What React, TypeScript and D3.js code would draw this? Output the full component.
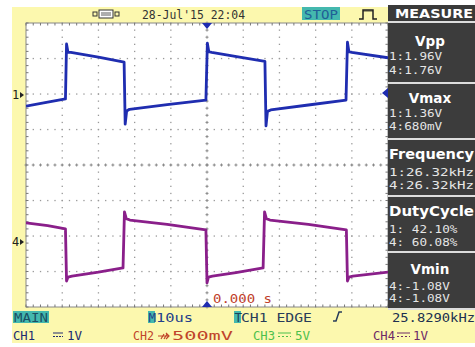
import React from 'react';
import * as d3 from 'd3';

// waveforms, time in us, value in volts
const ch1Points: [number, number][] = [
  [-50, -0.31], [-44, -0.2], [-39.1, -0.11], [-38.8, 1.44], [-38.4, 1.2], [-37.6, 1.2],
  [-30, 1.07], [-22.9, 0.93], [-22.6, -0.82], [-22.2, -0.45], [-21.4, -0.4], [-11, -0.27],
  [-0.3, -0.14], [0.1, 1.46], [0.5, 1.22], [1.3, 1.2], [9, 1.07], [16.0, 0.95], [16.3, -0.87],
  [16.7, -0.46], [17.6, -0.42], [28, -0.28], [38.4, -0.14], [38.8, 1.49], [39.2, 1.22],
  [40.0, 1.2], [50, 1.05],
];
const ch4Points: [number, number][] = [
  [-50, 0.54], [-44, 0.46], [-39.1, 0.37], [-38.8, -1.1], [-38.4, -0.99], [-37.3, -0.96],
  [-30, -0.85], [-23.2, -0.73], [-22.8, 0.85], [-22.3, 0.66], [-21.3, 0.62], [-11, 0.5],
  [-0.3, 0.34], [0.0, -1.15], [0.4, -0.99], [1.5, -0.96], [8, -0.86], [15.5, -0.73],
  [15.9, 0.85], [16.4, 0.66], [17.4, 0.62], [28, 0.5], [38.5, 0.34], [38.8, -1.1],
  [39.2, -0.99], [40.3, -0.96], [50, -0.85],
];
const ch1Offset = 1.97; // divisions above centre
const ch4Offset = -2.17;
const voltsPerDiv = 1;

const measureTitles = ['Vpp', 'Vmax', 'Frequency', 'DutyCycle', 'Vmin'];
const measureLine1 = ['1:1.96V', '1:1.36V', '1:26.32kHz', '1: 42.10%', '4:-1.08V'];
const measureLine2 = ['4:1.76V', '4:680mV', '4:26.32kHz', '4: 60.08%', '4:-1.08V'];

const YEL = '#fcf8ae';
const TEAL = '#44b8ae';
const MONO = '"DejaVu Sans Mono", monospace';

const App = () => {
  const x = d3.scaleLinear().domain([-50, 50]).range([26, 388]);
  const yDiv = d3.scaleLinear().domain([-4, 4]).range([307, 23]);
  const ch1Line = d3.line<[number, number]>()
    .x((d) => x(d[0]))
    .y((d) => yDiv(ch1Offset + d[1] / voltsPerDiv));
  const ch4Line = d3.line<[number, number]>()
    .x((d) => x(d[0]))
    .y((d) => yDiv(ch4Offset + d[1] / voltsPerDiv));

  const minorX = d3.range(-50, 50.01, 2);
  const minorY = d3.range(-4, 4.01, 0.2);
  const majorX = d3.range(-40, 41, 10);
  const majorY = d3.range(-3, 3.1, 1);

  const dots: JSX.Element[] = [];
  let k = 0;
  majorX.forEach((mx) => {
    minorY.forEach((my) => {
      if (mx === 0) {
        dots.push(<path key={k++} d={`M${x(mx) - 1.5},${yDiv(my)}h3M${x(mx)},${yDiv(my) - 1.5}v3`} stroke="#888" strokeWidth={1} />);
      } else {
        dots.push(<rect key={k++} x={x(mx) - 0.6} y={yDiv(my) - 0.6} width={1.3} height={1.3} fill="#999" />);
      }
    });
  });
  majorY.forEach((my) => {
    minorX.forEach((mx) => {
      if (my === 0) {
        dots.push(<path key={k++} d={`M${x(mx) - 1.5},${yDiv(my)}h3M${x(mx)},${yDiv(my) - 1.5}v3`} stroke="#888" strokeWidth={1} />);
      } else {
        dots.push(<rect key={k++} x={x(mx) - 0.6} y={yDiv(my) - 0.6} width={1.3} height={1.3} fill="#999" />);
      }
    });
  });
  // border ticks
  minorX.forEach((mx) => {
    dots.push(<path key={k++} d={`M${x(mx)},23v2.5M${x(mx)},307v-2.5`} stroke="#777" strokeWidth={1} />);
  });
  minorY.forEach((my) => {
    dots.push(<path key={k++} d={`M26,${yDiv(my)}h2.5M388,${yDiv(my)}h-2.5`} stroke="#777" strokeWidth={1} />);
  });

  const boxTop = [23, 84, 140, 197, 253];
  const boxBottom = [82, 138, 195, 251, 308];
  const titleY = [46, 103, 159, 216, 274];
  const val1Y = [60, 117, 176, 233, 290];
  const val2Y = [74, 130, 189, 246, 302];

  return (
    <div style={{ position: 'fixed', left: 0, top: 0 }}>
      <svg width={475} height={347} style={{ display: 'block' }}>
        <rect x={0} y={0} width={475} height={347} fill="#fff" />
        <rect x={12} y={7} width={463} height={336} fill={YEL} />
        <rect x={26} y={23} width={362} height={284} fill="#fff" stroke="#888" strokeWidth={1} />
        {dots}

        {/* top bar */}
        <g transform="translate(93,10)">
          <rect x={0} y={2} width={4} height={4} fill="none" stroke="#333" strokeWidth={1} />
          <rect x={6} y={0} width={14} height={8} fill="#fff" stroke="#333" strokeWidth={1} />
          <path d="M8,3h10M8,5h10" stroke="#333" strokeWidth={0.8} />
          <rect x={22} y={2} width={4} height={4} fill="none" stroke="#333" strokeWidth={1} />
        </g>
        <text x={142} y={19} fontFamily={MONO} fontSize={12} fill="#333" textLength={103} lengthAdjust="spacingAndGlyphs">28-Jul'15 22:04</text>
        <rect x={302} y={7} width={38} height={13} fill={TEAL} />
        <text x={304} y={18.5} fontFamily={MONO} fontSize={12} fill="#1f5f96" textLength={34} lengthAdjust="spacingAndGlyphs">STOP</text>
        <path d="M359,19h4v-9h10v9h4" fill="none" stroke="#222" strokeWidth={1.5} />
        <path d="M364,10v2M366,10v2M368,10v2M370,10v2M372,10v2" stroke="#222" strokeWidth={0.8} />
        <rect x={388} y={5} width={87} height={16} fill="#3a3a3a" />
        <text x={395} y={18} fontFamily='"DejaVu Sans", sans-serif' fontWeight="bold" fontSize={13} fill="#fff" textLength={78} lengthAdjust="spacingAndGlyphs">MEASURE</text>

        {/* trigger markers */}
        <path d={`M${x(0) - 5},23h10l-5,6z`} fill="#1f2db0" />
        <path d={`M${x(0) - 5},307h10l-5,-6z`} fill="#1f2db0" />
        <path d={`M388,93l-6,0l6,-5z M388,93l-6,0l6,5z`} fill="#1f2db0" />

        {/* channel markers */}
        <text x={12} y={yDiv(ch1Offset) + 4} fontFamily={MONO} fontSize={12} fill="#222">1</text>
        <path d={`M20,${yDiv(ch1Offset) - 3}l4,3l-4,3z`} fill="#222" />
        <text x={12} y={yDiv(ch4Offset) + 4} fontFamily={MONO} fontSize={12} fill="#222">4</text>
        <path d={`M20,${yDiv(ch4Offset) - 3}l4,3l-4,3z`} fill="#222" />

        {/* traces */}
        <g clipPath="url(#gridclip)">
          <defs>
            <clipPath id="gridclip"><rect x={26} y={23} width={362} height={284} /></clipPath>
          </defs>
          <path d={ch1Line(ch1Points) || ''} fill="none" stroke="#1f2db0" strokeWidth={2.8} strokeLinejoin="round" />
          <path d={ch4Line(ch4Points) || ''} fill="none" stroke="#8a1f8a" strokeWidth={2.8} strokeLinejoin="round" />
        </g>

        <text x={213} y={303} fontFamily={MONO} fontSize={12} fill="#c0402a" textLength={59} lengthAdjust="spacingAndGlyphs">0.000 s</text>

        {/* measure panel */}
        <rect x={388} y={21} width={87} height={289} fill="#ddd" />
        {measureTitles.map((t, i) => {
          const top = boxTop[i];
          const h = boxBottom[i] - top;
          const wide = t.length > 5;
          const longVal = measureLine1[i].length > 9;
          return (
            <g key={t}>
              <rect x={388} y={top} width={87} height={h} fill="#3c3c3c" />
              <text x={wide ? 389 : 430} y={titleY[i]} textAnchor={wide ? 'start' : 'middle'} fontFamily='"DejaVu Sans", sans-serif' fontWeight="bold" fontSize={13.5} fill="#fff"
                textLength={wide ? 85 : undefined} lengthAdjust="spacingAndGlyphs">{t}</text>
              <text x={389} y={val1Y[i]} fontFamily={MONO} fontSize={11} fill="#e6e6e6"
                textLength={longVal ? 85 : measureLine1[i].length * 7.6} lengthAdjust="spacingAndGlyphs">{measureLine1[i]}</text>
              <text x={389} y={val2Y[i]} fontFamily={MONO} fontSize={11} fill="#e6e6e6"
                textLength={longVal ? 85 : measureLine2[i].length * 7.6} lengthAdjust="spacingAndGlyphs">{measureLine2[i]}</text>
            </g>
          );
        })}

        {/* bottom rows */}
        <rect x={13} y={311} width={36} height={12} fill={TEAL} />
        <text x={14} y={322} fontFamily={MONO} fontSize={12.5} fill="#1b4f63" textLength={34} lengthAdjust="spacingAndGlyphs">MAIN</text>
        <rect x={148} y={311} width={7} height={12} fill={TEAL} />
        <text x={148.5} y={322} fontFamily={MONO} fontSize={12.5} fill="#24408a">M</text>
        <text x={156} y={322} fontFamily={MONO} fontSize={12.5} fill="#24408a" textLength={37} lengthAdjust="spacingAndGlyphs">10us</text>
        <rect x={234} y={311} width={7} height={12} fill={TEAL} />
        <text x={234.5} y={322} fontFamily={MONO} fontSize={12.5} fill="#1b3f5a">T</text>
        <text x={241} y={322} fontFamily={MONO} fontSize={12.5} fill="#283c5a" textLength={71} lengthAdjust="spacingAndGlyphs">CH1 EDGE</text>
        <path d="M333,321h3l3,-9h3" fill="none" stroke="#283c5a" strokeWidth={1.5} />
        <text x={392} y={322} fontFamily={MONO} fontSize={12.5} fill="#203050" textLength={83} lengthAdjust="spacingAndGlyphs">25.8290kHz</text>

        <text x={13} y={340} fontFamily={MONO} fontSize={12.5} fill="#202a70" textLength={22} lengthAdjust="spacingAndGlyphs">CH1</text>
        <path d="M53,333h10M53,336.5h2M56,336.5h2M59,336.5h2M62,336.5h1" stroke="#202a70" strokeWidth={1.2} />
        <text x={67} y={340} fontFamily={MONO} fontSize={12.5} fill="#202a70">1V</text>

        <text x={133} y={340} fontFamily={MONO} fontSize={12.5} fill="#c0442a" textLength={21} lengthAdjust="spacingAndGlyphs">CH2</text>
        <path d="M158,336h11M161,339l3,-5M164,339l3,-5M166,333l3,3l-3,3" fill="none" stroke="#c0442a" strokeWidth={1.2} />
        <text x={172} y={340} fontFamily={MONO} fontSize={12.5} fill="#c0442a" textLength={61} lengthAdjust="spacingAndGlyphs">500mV</text>

        <text x={253} y={340} fontFamily={MONO} fontSize={12.5} fill="#4cc04c" textLength={22} lengthAdjust="spacingAndGlyphs">CH3</text>
        <path d="M278,333h13M278,336.5h2M282,336.5h2M286,336.5h2M290,336.5h1" stroke="#4cc04c" strokeWidth={1.2} />
        <text x={295} y={340} fontFamily={MONO} fontSize={12.5} fill="#4cc04c">5V</text>

        <text x={373} y={340} fontFamily={MONO} fontSize={12.5} fill="#6e2a66" textLength={22} lengthAdjust="spacingAndGlyphs">CH4</text>
        <path d="M397,333h13M397,336.5h2M401,336.5h2M405,336.5h2M409,336.5h1" stroke="#6e2a66" strokeWidth={1.2} />
        <text x={413} y={340} fontFamily={MONO} fontSize={12.5} fill="#6e2a66">1V</text>
      </svg>
    </div>
  );
};

export default App;
